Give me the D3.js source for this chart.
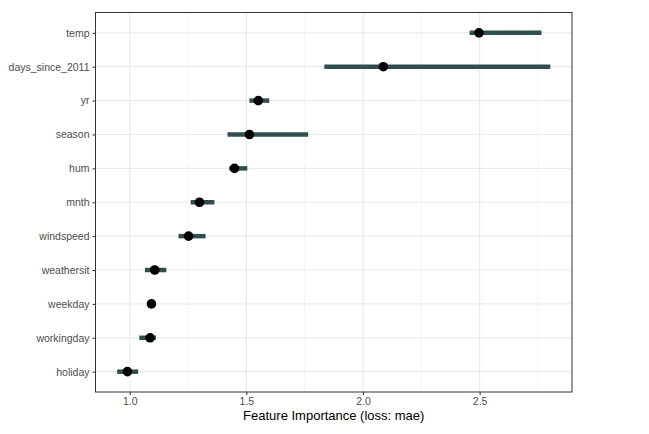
<!DOCTYPE html>
<html>
<head>
<meta charset="utf-8">
<script src="https://cdn.jsdelivr.net/npm/d3@7"></script>
<style>
  body { margin: 0; background: #fff; }
  text { font-family: "Liberation Sans", Arial, sans-serif; }
</style>
</head>
<body>
<div id="chart"></div>
<script>
// Feature importance (loss: mae) - permutation ranges
const features = ["temp", "days_since_2011", "yr", "season", "hum", "mnth",
                  "windspeed", "weathersit", "weekday", "workingday", "holiday"];
const importance = [2.497, 2.087, 1.551, 1.513, 1.449, 1.299, 1.252, 1.107, 1.093, 1.087, 0.990];
const lower      = [2.457, 1.834, 1.513, 1.419, 1.427, 1.261, 1.209, 1.065, 1.085, 1.041, 0.946];
const upper      = [2.765, 2.803, 1.598, 1.765, 1.504, 1.363, 1.325, 1.157, 1.100, 1.112, 1.036];
const xTicks = [1.0, 1.5, 2.0, 2.5];
const xMinor = [1.25, 1.75, 2.25, 2.75];

const W = 649, H = 434;
const panel = { left: 95.5, right: 572, top: 12.5, bottom: 392 };

const svg = d3.select("#chart").append("svg")
    .attr("width", W)
    .attr("height", H);

const lo = d3.min(lower), hi = d3.max(upper);
const pad = (hi - lo) * 0.05;
const x = d3.scaleLinear()
    .domain([lo - pad, hi + pad])
    .range([panel.left, panel.right]);

const y = d3.scalePoint()
    .domain(features)
    .range([panel.top, panel.bottom])
    .padding(0.6);

// grid
const grid = svg.append("g");
grid.selectAll(".minor")
    .data(xMinor)
    .join("line")
    .attr("x1", d => x(d)).attr("x2", d => x(d))
    .attr("y1", panel.top).attr("y2", panel.bottom)
    .attr("stroke", "#ebebeb").attr("stroke-width", 0.6);
grid.selectAll(".majorx")
    .data(xTicks)
    .join("line")
    .attr("x1", d => x(d)).attr("x2", d => x(d))
    .attr("y1", panel.top).attr("y2", panel.bottom)
    .attr("stroke", "#ebebeb").attr("stroke-width", 1.2);
grid.selectAll(".majory")
    .data(features)
    .join("line")
    .attr("x1", panel.left).attr("x2", panel.right)
    .attr("y1", d => y(d)).attr("y2", d => y(d))
    .attr("stroke", "#ebebeb").attr("stroke-width", 1.2);

// ranges
svg.append("g").selectAll("line")
    .data(features)
    .join("line")
    .attr("x1", (d, i) => x(lower[i]))
    .attr("x2", (d, i) => x(upper[i]))
    .attr("y1", d => y(d)).attr("y2", d => y(d))
    .attr("stroke", "#2F4F4F")
    .attr("stroke-width", 4.5);

// points
svg.append("g").selectAll("circle")
    .data(features)
    .join("circle")
    .attr("cx", (d, i) => x(importance[i]))
    .attr("cy", d => y(d))
    .attr("r", 4.8)
    .attr("fill", "#000");

// panel border
svg.append("rect")
    .attr("x", panel.left).attr("y", panel.top)
    .attr("width", panel.right - panel.left)
    .attr("height", panel.bottom - panel.top)
    .attr("fill", "none")
    .attr("stroke", "#333")
    .attr("stroke-width", 1);

// axes
const xAxis = svg.append("g")
    .attr("transform", `translate(0,${panel.bottom})`)
    .call(d3.axisBottom(x).tickValues(xTicks).tickFormat(d3.format(".1f")).tickSize(3).tickPadding(3));
const yAxis = svg.append("g")
    .attr("transform", `translate(${panel.left},0)`)
    .call(d3.axisLeft(y).tickSize(3).tickPadding(3));

[xAxis, yAxis].forEach(g => {
    g.select(".domain").remove();
    g.selectAll(".tick line").attr("stroke", "#333").attr("stroke-width", 1);
    g.selectAll(".tick text")
        .attr("fill", "#4d4d4d")
        .style("font-size", "10.5px");
});

svg.append("text")
    .attr("x", (panel.left + panel.right) / 2)
    .attr("y", 420)
    .attr("text-anchor", "middle")
    .attr("fill", "#000")
    .style("font-size", "13px")
    .text("Feature Importance (loss: mae)");
</script>
</body>
</html>
